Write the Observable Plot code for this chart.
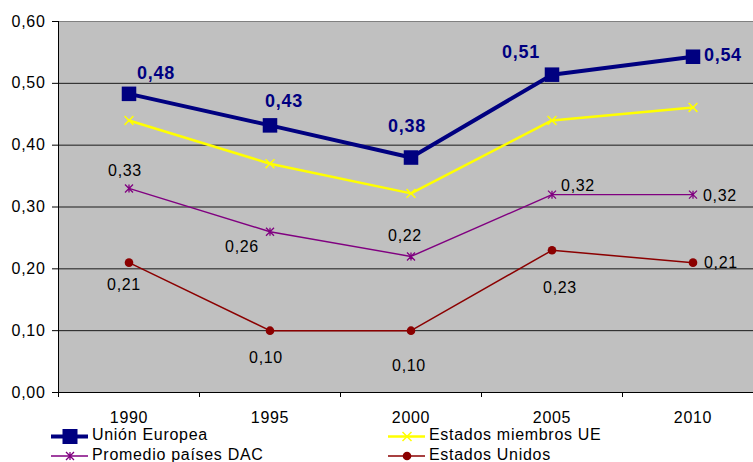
<!DOCTYPE html>
<html>
<head>
<meta charset="utf-8">
<script src="https://cdn.jsdelivr.net/npm/d3@7"></script>
<script src="https://cdn.jsdelivr.net/npm/@observablehq/plot@0.6"></script>
<style>
  html, body { margin: 0; padding: 0; background: #fff; overflow: hidden; }
  #wrap { position: relative; width: 753px; height: 462px; overflow: hidden; }
  #legend { position: absolute; left: 0; top: 425px; }
  #chart svg { display: block; }
</style>
</head>
<body>
<div id="wrap"><div id="chart"></div><svg id="legend" width="753" height="37"></svg></div>
<script>
// ---- data ----
const years = [1990, 1995, 2000, 2005, 2010];
const unionEuropea = [0.483, 0.432, 0.38, 0.514, 0.543];
const estadosMiembrosUE = [0.44, 0.37, 0.322, 0.44, 0.461];
const promedioDAC = [0.33, 0.26, 0.22, 0.32, 0.32];
const estadosUnidos = [0.21, 0.10, 0.10, 0.23, 0.21];
const yTicks = [0, 0.1, 0.2, 0.3, 0.4, 0.5, 0.6];
const seriesNames = ["Unión Europea", "Estados miembros UE", "Promedio países DAC", "Estados Unidos"];

// ---- label placement (pixel offsets, anchor) ----
const ueLabelPos = [[27, -21, "middle"], [14, -24, "middle"], [-4, -31, "middle"], [-31, -22, "middle"], [11, -2, "start"]];
const dacLabelPos = [[-4, -18, "middle"], [-28, 15, "middle"], [-6, -21, "middle"], [26, -9, "middle"], [10, 1, "start"]];
const usLabelPos = [[-5, 22, "middle"], [-4, 27, "middle"], [-2, 35, "middle"], [8, 38, "middle"], [11, 0, "start"]];

const fmt = d => d.toFixed(2).replace(".", ",");
const NAVY = "#000080", YEL = "#ffff00", PUR = "#800080", RED = "#8b0000";
const FONT = "'Liberation Sans', Arial, sans-serif";

// Excel-style star: x plus vertical bar
const excelStar = {
  draw(context, size) {
    const r = Math.sqrt(size / Math.PI);
    context.moveTo(-r, -r); context.lineTo(r, r);
    context.moveTo(r, -r); context.lineTo(-r, r);
    context.moveTo(0, -r); context.lineTo(0, r);
  }
};

const boundaries = years.map(y => y - 2.5);

function labels(values, pos, opts) {
  return values.map((v, i) => Plot.text([v], {
    x: [years[i]], y: [v], text: d => fmt(d),
    dx: pos[i][0], dy: pos[i][1], textAnchor: pos[i][2], ...opts
  }));
}

const chart = Plot.plot({
  width: 753,
  height: 425,
  marginLeft: 58,
  marginRight: 0,
  marginTop: 21,
  marginBottom: 33,
  style: { fontFamily: FONT, fontSize: "16px", letterSpacing: "0.7px", color: "#000", background: "transparent" },
  x: { type: "linear", domain: [1987.5, 2012.5], range: [58, 763] },
  y: { domain: [0, 0.6] },
  marks: [
    Plot.frame({ fill: "#c0c0c0", stroke: null }),
    Plot.ruleY(yTicks.filter(t => t > 0 && t < 0.6), { stroke: "#1a1a1a", strokeWidth: 1 }),
    Plot.ruleY([0.6], { stroke: "#808080", strokeWidth: 1 }),
    Plot.ruleX([1987.5], { stroke: "#000", strokeWidth: 1 }),
    Plot.ruleY([0], { stroke: "#000", strokeWidth: 1 }),
    Plot.axisY({ ticks: yTicks, tickFormat: fmt, tickSize: 6, tickPadding: 7, fontSize: 16 }),
    Plot.axisX({ ticks: boundaries, tickSize: 5, tickFormat: () => "" }),
    Plot.axisX({ ticks: years, tickSize: 0, tickPadding: 19, tickFormat: d => String(d), fontSize: 16 }),
    // Estados Unidos
    Plot.line(estadosUnidos, { x: years, y: estadosUnidos, stroke: RED, strokeWidth: 1.5 }),
    Plot.dot(estadosUnidos, { x: years, y: estadosUnidos, r: 4.3, fill: RED, stroke: null }),
    // Promedio DAC
    Plot.line(promedioDAC, { x: years, y: promedioDAC, stroke: PUR, strokeWidth: 1.4 }),
    Plot.dot(promedioDAC, { x: years, y: promedioDAC, r: 4, symbol: excelStar, fill: "none", stroke: PUR, strokeWidth: 1.3 }),
    // Estados miembros UE
    Plot.line(estadosMiembrosUE, { x: years, y: estadosMiembrosUE, stroke: YEL, strokeWidth: 2.5 }),
    Plot.dot(estadosMiembrosUE, { x: years, y: estadosMiembrosUE, r: 4.1, symbol: "times", fill: "none", stroke: YEL, strokeWidth: 1.5 }),
    // Unión Europea
    Plot.line(unionEuropea, { x: years, y: unionEuropea, stroke: NAVY, strokeWidth: 4 }),
    Plot.dot(unionEuropea, { x: years, y: unionEuropea, r: 8.2, symbol: "square", fill: NAVY, stroke: null }),
    ...labels(unionEuropea, ueLabelPos, { fill: NAVY, fontWeight: "bold", fontSize: 18 }),
    ...labels(promedioDAC, dacLabelPos, { fill: "#000", fontSize: 16 }),
    ...labels(estadosUnidos, usLabelPos, { fill: "#000", fontSize: 16 })
  ]
});
document.getElementById("chart").appendChild(chart);

// ---- legend ----
const lg = d3.select("#legend");
const entries = [
  { name: seriesNames[0], color: NAVY, w: 4, x: 51, cy: 11.5, by: 15, mk: "square" },
  { name: seriesNames[1], color: YEL, w: 2.5, x: 388, cy: 11.5, by: 15, mk: "times" },
  { name: seriesNames[2], color: PUR, w: 1.4, x: 51, cy: 31, by: 35, mk: "star" },
  { name: seriesNames[3], color: RED, w: 1.5, x: 388, cy: 31, by: 35, mk: "dot" }
];
for (const e of entries) {
  lg.append("line").attr("x1", e.x).attr("x2", e.x + 37).attr("y1", e.cy).attr("y2", e.cy)
    .attr("stroke", e.color).attr("stroke-width", e.w);
  const mx = e.x + 19;
  if (e.mk === "square") {
    lg.append("rect").attr("x", mx - 7.5).attr("y", e.cy - 7.5).attr("width", 15).attr("height", 15).attr("fill", e.color);
  } else if (e.mk === "times") {
    lg.append("path").attr("d", `M${mx-4.5},${e.cy-4.5}L${mx+4.5},${e.cy+4.5}M${mx+4.5},${e.cy-4.5}L${mx-4.5},${e.cy+4.5}`)
      .attr("stroke", e.color).attr("stroke-width", 1.5).attr("fill", "none");
  } else if (e.mk === "star") {
    lg.append("path").attr("d", `M${mx-4},${e.cy-4}L${mx+4},${e.cy+4}M${mx+4},${e.cy-4}L${mx-4},${e.cy+4}M${mx},${e.cy-4}L${mx},${e.cy+4}`)
      .attr("stroke", e.color).attr("stroke-width", 1.3).attr("fill", "none");
  } else {
    lg.append("circle").attr("cx", mx).attr("cy", e.cy).attr("r", 4.3).attr("fill", e.color);
  }
  lg.append("text").attr("x", e.x + 41).attr("y", e.by).text(e.name)
    .attr("font-family", FONT).attr("font-size", 16).attr("letter-spacing", "0.7px").attr("fill", "#000");
}
</script>
</body>
</html>
